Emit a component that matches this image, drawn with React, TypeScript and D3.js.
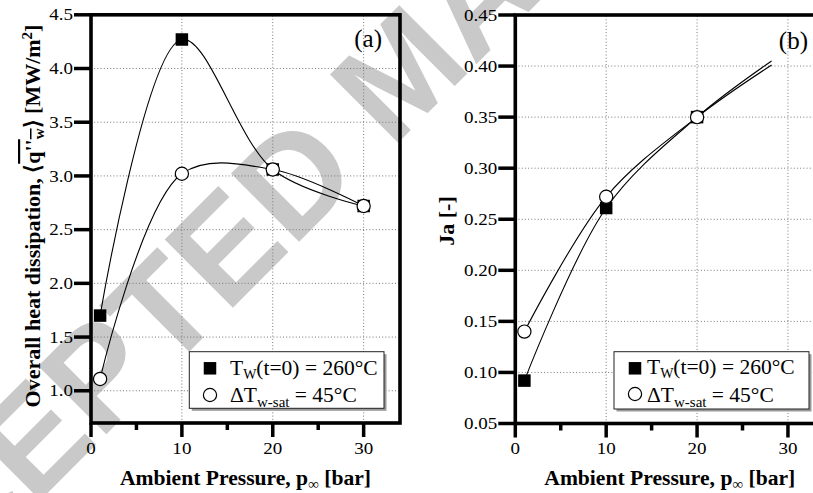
import React from 'react';
import * as d3 from 'd3';

// Measured points: ambient pressure [bar]
const PRESSURE = [1, 10, 20, 30];
// Overall heat dissipation [MW/m2]
const HEAT_TW_FIXED = [1.7, 4.27, 3.06, 2.72];
const HEAT_DT_FIXED = [1.11, 3.02, 3.06, 2.72];

// Jakob number
const PRESSURE_JA = [1, 10, 20];
const JA_TW_FIXED = [0.092, 0.261, 0.35];
const JA_DT_FIXED = [0.14, 0.272, 0.35];
// The Ja trend curves continue past the last measurement
const JA_CURVE_END_P = 28.2;
const JA_CURVE_END_TW = 0.405;
const JA_CURVE_END_DT = 0.401;

const X_MAJOR = [0, 10, 20, 30];
const X_MINOR = [5, 15, 25];
const X_GRID = [10, 20, 30];
const HEAT_TICKS = [1.0, 1.5, 2.0, 2.5, 3.0, 3.5, 4.0, 4.5];
const HEAT_GRID = [1.0, 1.5, 2.0, 2.5, 3.0, 3.5, 4.0];
const JA_TICKS = [0.05, 0.1, 0.15, 0.2, 0.25, 0.3, 0.35, 0.4, 0.45];
const JA_GRID = [0.1, 0.15, 0.2, 0.25, 0.3, 0.35, 0.4];

const SERIF = '"Liberation Serif", "Times New Roman", serif';
const W = 813;
const H = 493;

type LegendCfg = {
  x: number; y: number; w: number; h: number;
  markX: number; rows: number[]; textX: number; baselines: number[];
};

type PanelProps = {
  x: d3.ScaleLinear<number, number>;
  y: d3.ScaleLinear<number, number>;
  yTicks: number[];
  yGrid: number[];
  fmt: (v: number) => string;
  tw: [number, number][];
  dt: [number, number][];
  twMarks: [number, number][];
  dtMarks: [number, number][];
  tag: string;
  tagX: number;
  tagY: number;
  legend: LegendCfg;
};

const SQ = 12.5;
const R = 6.6;

function Panel(p: PanelProps) {
  const { x, y } = p;
  const [x0, x1] = x.range();
  const [y0, y1] = y.range();
  const line = d3
    .line<[number, number]>()
    .x((d) => x(d[0]))
    .y((d) => y(d[1]))
    .curve(d3.curveCatmullRom.alpha(0.5));
  const lg = p.legend;
  return (
    <g>
      {/* grid */}
      {X_GRID.map((v) => (
        <line key={'gx' + v} x1={x(v)} x2={x(v)} y1={y0} y2={y1} stroke="#777" strokeWidth={1} strokeDasharray="1,2.2" />
      ))}
      {p.yGrid.map((v) => (
        <line key={'gy' + v} x1={x0} x2={x1} y1={y(v)} y2={y(v)} stroke="#777" strokeWidth={1} strokeDasharray="1,2.2" />
      ))}

      {/* curves */}
      <path d={line(p.tw) || ''} fill="none" stroke="#000" strokeWidth={1.1} />
      <path d={line(p.dt) || ''} fill="none" stroke="#000" strokeWidth={1.1} />

      {/* markers */}
      {p.twMarks.map((d, i) => (
        <rect key={'s' + i} x={x(d[0]) - SQ / 2} y={y(d[1]) - SQ / 2} width={SQ} height={SQ} fill="#000" />
      ))}
      {p.dtMarks.map((d, i) => (
        <circle key={'c' + i} cx={x(d[0])} cy={y(d[1])} r={R} fill="#fff" stroke="#000" strokeWidth={1.2} />
      ))}

      {/* frame */}
      <rect x={x0} y={y1} width={x1 - x0} height={y0 - y1} fill="none" stroke="#000" strokeWidth={3.6} />

      {/* x ticks */}
      {X_MAJOR.map((v) => (
        <g key={'xt' + v}>
          <line x1={x(v)} x2={x(v)} y1={y0} y2={y0 + 14} stroke="#000" strokeWidth={3.5} />
          <text
            transform={`translate(${x(v)},${453.5}) scale(1.12,1)`}
            textAnchor="middle"
            fontFamily={SERIF}
            fontSize={17}
          >
            {v}
          </text>
        </g>
      ))}
      {X_MINOR.map((v) => (
        <line key={'xm' + v} x1={x(v)} x2={x(v)} y1={y0} y2={y0 + 7} stroke="#000" strokeWidth={3.5} />
      ))}

      {/* y ticks */}
      {p.yTicks.map((v) => (
        <g key={'yt' + v}>
          <line x1={x0 - 17} x2={x0} y1={y(v)} y2={y(v)} stroke="#000" strokeWidth={3.5} />
          <text
            transform={`translate(${x0 - 18},${y(v) + 5.6}) scale(1.12,1)`}
            textAnchor="end"
            fontFamily={SERIF}
            fontSize={17}
          >
            {p.fmt(v)}
          </text>
        </g>
      ))}

      {/* panel tag */}
      <text x={p.tagX} y={p.tagY} textAnchor="end" fontFamily={SERIF} fontSize={25}>
        {p.tag}
      </text>

      {/* legend */}
      <rect x={lg.x + 2.5} y={lg.y + 2.5} width={lg.w} height={lg.h} fill="#9a9a9a" />
      <rect x={lg.x} y={lg.y} width={lg.w} height={lg.h} fill="#fff" stroke="#222" strokeWidth={1} />
      <rect x={lg.markX - SQ / 2} y={lg.rows[0] - SQ / 2} width={SQ} height={SQ} fill="#000" />
      <circle cx={lg.markX} cy={lg.rows[1]} r={R} fill="#fff" stroke="#000" strokeWidth={1.2} />
      <text x={lg.textX} y={lg.baselines[0]} fontFamily={SERIF} fontSize={21.5}>
        T<tspan fontSize={14} dy={4}>W</tspan>
        <tspan dy={-4}>(t=0) = 260°C</tspan>
      </text>
      <text x={lg.textX} y={lg.baselines[1]} fontFamily={SERIF} fontSize={21.5}>
        ΔT<tspan fontSize={15} dy={5}>w-sat</tspan>
        <tspan dy={-5}> = 45°C</tspan>
      </text>

      {/* x title */}
      <text
        x={(x0 + Math.min(x1, x0 + 309)) / 2}
        y={485}
        textAnchor="middle"
        fontFamily={SERIF}
        fontWeight="bold"
        fontSize={21.6}
      >
        Ambient Pressure, p<tspan fontSize={15} dy={4}>∞</tspan>
        <tspan dy={-4}> [bar]</tspan>
      </text>
    </g>
  );
}

export default function App() {
  const xA = d3.scaleLinear().domain([0, 34]).range([91, 400]);
  const yA = d3.scaleLinear().domain([0.7, 4.5]).range([423, 14.8]);
  const xB = d3.scaleLinear().domain([0, 34]).range([515.3, 824.3]);
  const yB = d3.scaleLinear().domain([0.05, 0.45]).range([423.5, 15]);

  const heatTw = PRESSURE.map((p, i) => [p, HEAT_TW_FIXED[i]] as [number, number]);
  const heatDt = PRESSURE.map((p, i) => [p, HEAT_DT_FIXED[i]] as [number, number]);
  const jaTw = PRESSURE_JA.map((p, i) => [p, JA_TW_FIXED[i]] as [number, number]);
  const jaDt = PRESSURE_JA.map((p, i) => [p, JA_DT_FIXED[i]] as [number, number]);
  const jaTwCurve = [...jaTw, [JA_CURVE_END_P, JA_CURVE_END_TW] as [number, number]];
  const jaDtCurve = [...jaDt, [JA_CURVE_END_P, JA_CURVE_END_DT] as [number, number]];

  return (
    <svg
      width={W}
      height={H}
      viewBox={`0 0 ${W} ${H}`}
      style={{ position: 'absolute', left: 0, top: 0, background: '#fff' }}
    >
      <rect x={0} y={0} width={W} height={H} fill="#fff" />

      {/* background stamp */}
      <g transform="translate(400,70) rotate(-45)">
        <text
          x={0}
          y={50}
          textAnchor="middle"
          fontFamily='"Liberation Sans", Arial, sans-serif'
          fontWeight="bold"
          fontSize={140}
          fill="#c9c9c9"
        >
          ACCEPTED MANUSCRIPT
        </text>
      </g>

      <Panel
        x={xA}
        y={yA}
        yTicks={HEAT_TICKS}
        yGrid={HEAT_GRID}
        fmt={d3.format('.1f')}
        tw={heatTw}
        dt={heatDt}
        twMarks={heatTw}
        dtMarks={heatDt}
        tag="(a)"
        tagX={382}
        tagY={47}
        legend={{
          x: 189.3, y: 351.7, w: 194.7, h: 56.6,
          markX: 210, rows: [368.3, 395], textX: 230, baselines: [375, 402],
        }}
      />
      <Panel
        x={xB}
        y={yB}
        yTicks={JA_TICKS}
        yGrid={JA_GRID}
        fmt={d3.format('.2f')}
        tw={jaTwCurve}
        dt={jaDtCurve}
        twMarks={jaTw}
        dtMarks={jaDt}
        tag="(b)"
        tagX={808}
        tagY={49}
        legend={{
          x: 614, y: 351.7, w: 195, h: 57.3,
          markX: 635, rows: [368.3, 394], textX: 647, baselines: [374, 401.7],
        }}
      />

      {/* y titles */}
      <text
        transform="translate(40,216) rotate(-90)"
        textAnchor="middle"
        fontFamily={SERIF}
        fontWeight="bold"
        fontSize={22}
      >
        Overall heat dissipation, ⟨<tspan style={{ textDecoration: 'overline' }}>q''</tspan>
        <tspan fontSize={15} dy={4} style={{ textDecoration: 'overline' }}>w</tspan>
        <tspan dy={-4}>⟩  [MW/m</tspan>
        <tspan fontSize={15} dy={-8}>2</tspan>
        <tspan dy={8}>]</tspan>
      </text>
      <text
        transform="translate(454,221) rotate(-90)"
        textAnchor="middle"
        fontFamily={SERIF}
        fontWeight="bold"
        fontSize={22}
      >
        Ja [-]
      </text>
    </svg>
  );
}
